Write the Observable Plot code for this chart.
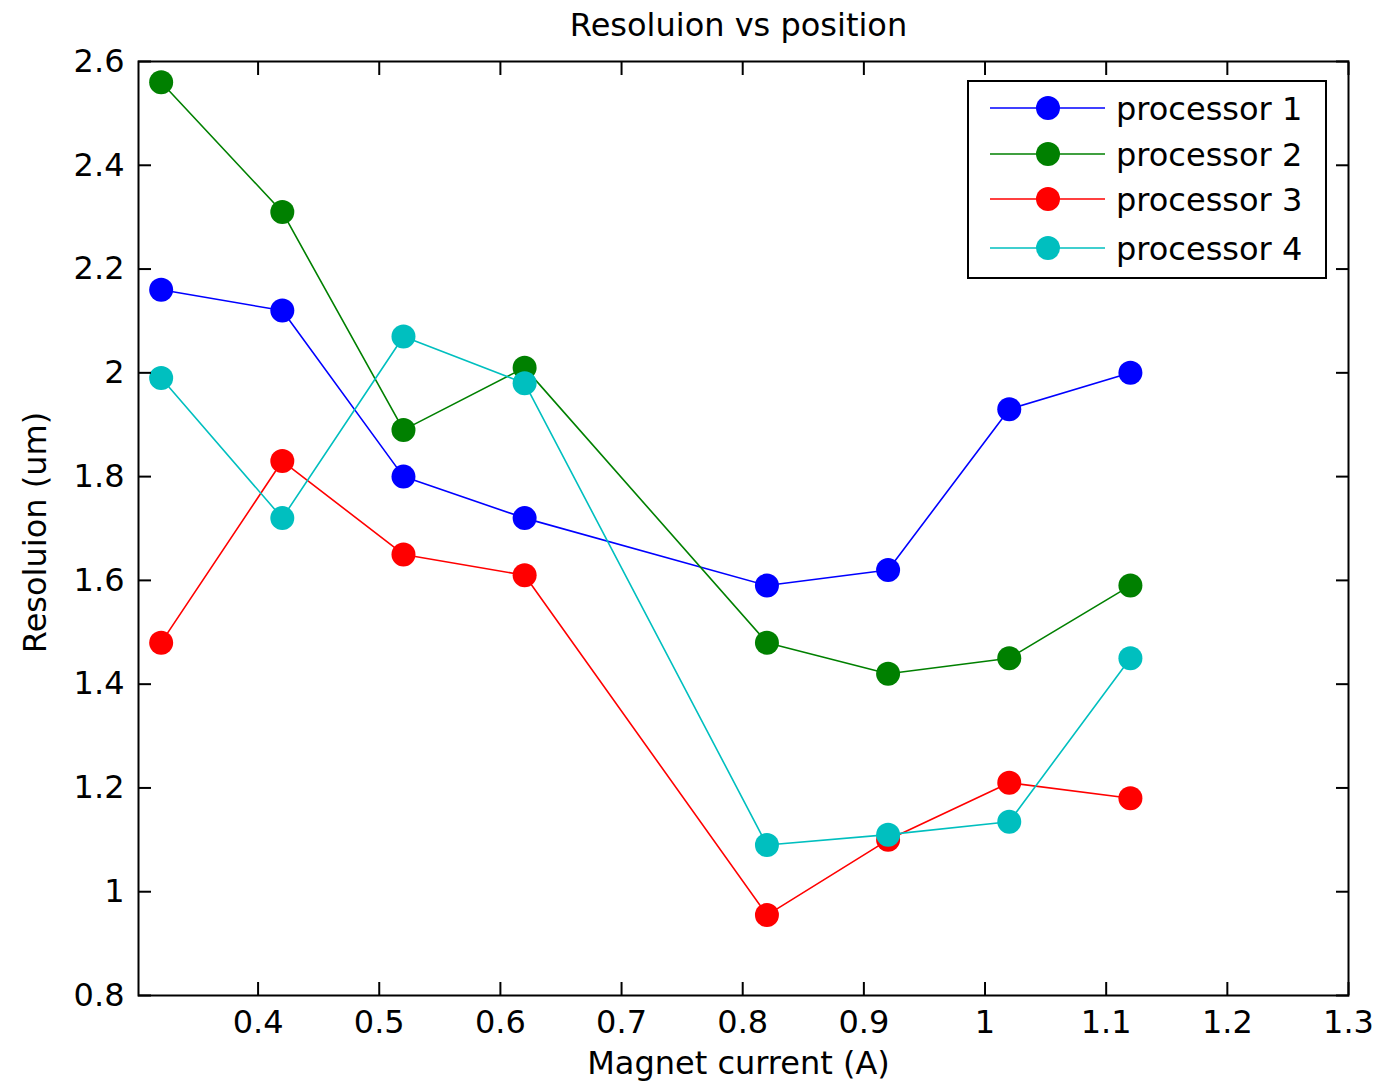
<!DOCTYPE html>
<html>
<head>
<meta charset="utf-8">
<script src="https://cdn.jsdelivr.net/npm/d3@7"></script>
<script src="https://cdn.jsdelivr.net/npm/@observablehq/plot@0.6"></script>
<style>
  html, body { margin: 0; padding: 0; background: #fff; }
  #chart { position: relative; width: 1375px; height: 1086px; }
</style>
</head>
<body>
<div id="chart"></div>
<script>
// ---- data ----
const titleText = "Resoluion vs position";
const xLabel = "Magnet current (A)";
const yLabel = "Resoluion (um)";
const seriesNames = ["processor 1", "processor 2", "processor 3", "processor 4"];
const seriesColors = ["#0000ff", "#008000", "#ff0000", "#00bfbf"];
const magnetCurrent = [0.32, 0.42, 0.52, 0.62, 0.82, 0.92, 1.02, 1.12];
const processor1 = [2.16, 2.12, 1.80, 1.72, 1.59, 1.62, 1.93, 2.00];
const processor2 = [2.56, 2.31, 1.89, 2.01, 1.48, 1.42, 1.45, 1.59];
const processor3 = [1.48, 1.83, 1.65, 1.61, 0.955, 1.10, 1.21, 1.18];
const processor4 = [1.99, 1.72, 2.07, 1.98, 1.09, 1.11, 1.135, 1.45];
const xTicks = [0.4, 0.5, 0.6, 0.7, 0.8, 0.9, 1, 1.1, 1.2, 1.3];
const yTicks = [0.8, 1, 1.2, 1.4, 1.6, 1.8, 2, 2.2, 2.4, 2.6];
const xDomain = [0.3013, 1.3];
const yDomain = [0.8, 2.6];

const allSeries = [processor1, processor2, processor3, processor4];
const rows = allSeries.map((vals, si) =>
  vals.map((v, i) => ({series: seriesNames[si], x: magnetCurrent[i], y: v}))
);

const font = "DejaVu Sans";
const fmt = d => String(d);

const seriesMarks = rows.flatMap((data, si) => [
  Plot.line(data, {x: "x", y: "y", stroke: seriesColors[si], strokeWidth: 1.6}),
  Plot.dot(data, {x: "x", y: "y", r: 12, fill: seriesColors[si], stroke: "none"})
]);

const chart = Plot.plot({
  width: 1375,
  height: 1086,
  marginLeft: 138,
  marginRight: 27,
  marginTop: 61,
  marginBottom: 91,
  style: {fontFamily: font, fontSize: "32px", background: "#fff", color: "#000", overflow: "visible"},
  x: {domain: xDomain},
  y: {domain: yDomain},
  marks: [
    ...seriesMarks,
    Plot.frame({stroke: "#000", strokeWidth: 2}),
    Plot.axisX(xTicks, {anchor: "bottom", tickSize: -13, tickPadding: 28, strokeWidth: 2, tickFormat: fmt, label: null, fontSize: 32}),
    Plot.axisX(xTicks, {anchor: "top", tickSize: -13, strokeWidth: 2, tickFormat: () => "", label: null}),
    Plot.axisY(yTicks, {anchor: "left", tickSize: -13, tickPadding: 27, strokeWidth: 2, tickFormat: fmt, label: null, fontSize: 32}),
    Plot.axisY(yTicks, {anchor: "right", tickSize: -13, strokeWidth: 2, tickFormat: () => "", label: null}),
    Plot.text([titleText], {frameAnchor: "top", dx: -5, dy: -36, lineAnchor: "middle", textAnchor: "middle", fontSize: 32, text: d => d}),
    Plot.text([xLabel], {frameAnchor: "bottom", dx: -5, dy: 68, lineAnchor: "middle", textAnchor: "middle", fontSize: 32, text: d => d}),
    Plot.text([yLabel], {frameAnchor: "left", dx: -103, dy: 4, rotate: -90, lineAnchor: "middle", textAnchor: "middle", fontSize: 32, text: d => d})
  ]
});

document.getElementById("chart").appendChild(chart);

// ---- legend (drawn into the same svg) ----
const svg = d3.select(chart);
const lg = svg.append("g").attr("transform", "translate(968,81)");
lg.append("rect").attr("width", 358).attr("height", 197)
  .attr("fill", "#fff").attr("stroke", "#000").attr("stroke-width", 2);
const rowY = [27, 73, 118, 167];
seriesNames.forEach((name, i) => {
  const g = lg.append("g").attr("transform", `translate(0,${rowY[i]})`);
  g.append("line").attr("x1", 22).attr("x2", 137).attr("y1", 0).attr("y2", 0)
    .attr("stroke", seriesColors[i]).attr("stroke-width", 1.6);
  g.append("circle").attr("cx", 80).attr("cy", 0).attr("r", 12).attr("fill", seriesColors[i]);
  g.append("text").attr("x", 148).attr("y", 0).attr("dy", "0.36em")
    .attr("text-anchor", "start")
    .attr("font-family", font).attr("font-size", 32).attr("fill", "#000").text(name);
});
</script>
</body>
</html>
